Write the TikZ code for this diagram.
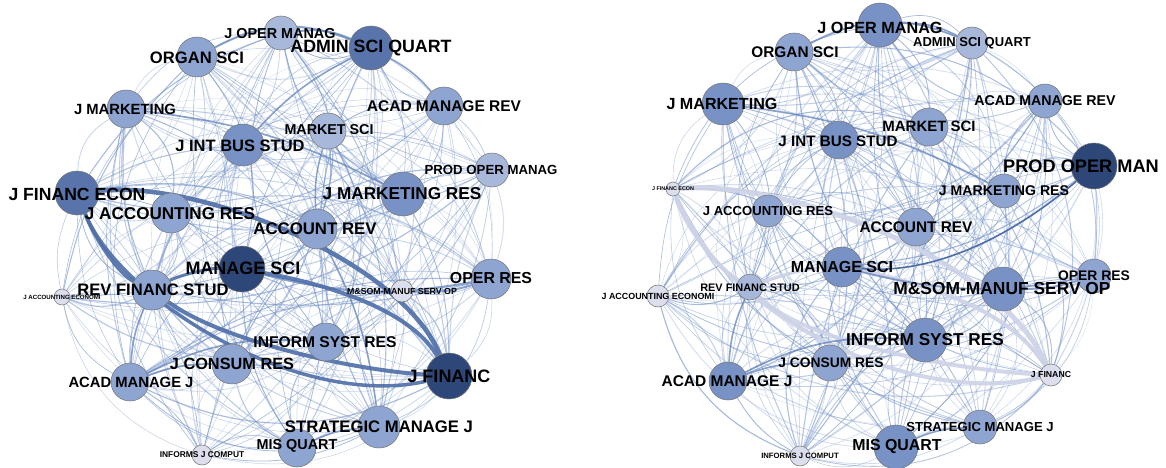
\documentclass[tikz,border=0pt]{standalone}
\usepackage{fontspec}
\setmainfont{Liberation Sans}
\usetikzlibrary{backgrounds}
\pgfdeclarelayer{bg}
\pgfdeclarelayer{edges}
\pgfsetlayers{bg,edges,main}
\definecolor{c1}{HTML}{DCDEEE}
\definecolor{c2}{HTML}{A8B8DA}
\definecolor{c3}{HTML}{8EA5D1}
\definecolor{c4}{HTML}{7892C6}
\definecolor{c5}{HTML}{5874AA}
\definecolor{c6}{HTML}{2D4779}
\definecolor{webc}{HTML}{7895CA}
\definecolor{thickc}{HTML}{4E6EA8}
\definecolor{medc}{HTML}{6282BA}
\definecolor{palec}{HTML}{CDD2E7}
\tikzset{
  jnode/.style={circle, draw=black!55, line width=0.5pt, inner sep=0pt},
  jlab/.style={inner sep=0pt, text=black},
  thickedge/.style={draw=thickc, line width=#1, opacity=0.9},
  mededge/.style={draw=medc, line width=#1, opacity=0.75},
  paleedge/.style={draw=palec, line width=#1, opacity=0.9},
}
\begin{document}
\begin{tikzpicture}[x=1pt,y=-1pt]
\pgfmathsetseed{7}
\useasboundingbox (0,0) rectangle (1166,468);
\begin{pgfonlayer}{bg}
\fill[white] (0,0) rectangle (1166,468);
\end{pgfonlayer}
\def\ids{jom,os,asq,jm,amr,mks,jibs,pom,jfe,jmr,jar,ar,msci,rfs,jae,msom,or,isr,jcr,jf,amj,smj,misq,ijc}
% ---------- left graph nodes
\foreach \id/\x/\y/\r/\c in {jom/281/33/17/c2, os/197/57/20/c3, asq/371/48/22/c5, jm/126/109/19/c3, amr/444/106/19/c3, mks/328/131/18/c2, jibs/243/145/21/c4, pom/492/170/17/c2, jfe/77/193/22/c5, jmr/403/194/22/c4, jar/171/213/20/c3, ar/317/229/20/c3, msci/242/269/23/c6, rfs/152/290/20/c3, jae/62/297/8/c1, msom/402/291/11/c1, or/491/279/20/c3, isr/326/342/19/c3, jcr/232/364/20/c3, jf/449/376/23/c6, amj/130/382/19/c3, smj/379/427/21/c3, misq/297/448/19/c3, ijc/202/455/10/c1}
  {\node[jnode, fill=\c, minimum size={2*\r pt}] (L\id) at (\x,\y) {};}
% ---------- right graph nodes
\foreach \id/\x/\y/\r/\c in {jom/880/25/22/c4, os/794/52/19/c3, asq/972/43/16/c2, jm/723/104/21/c4, amr/1045/101/17/c3, mks/929/127/19/c3, jibs/839/140/19/c4, pom/1094/166/23/c6, jfe/673/189/7/c1, jmr/1004/191/17/c3, jar/768/211/16/c3, ar/916/227/19/c3, msci/842/267/20/c4, rfs/750/287/13/c2, jae/658/296/11/c1, msom/1003/289/22/c4, or/1094/276/17/c3, isr/925/340/22/c4, jcr/830/363/18/c3, jf/1051/375/11/c1, amj/728/381/19/c4, smj/980/427/17/c3, misq/896/447/22/c4, ijc/800/456/10/c1}
  {\node[jnode, fill=\c, minimum size={2*\r pt}] (R\id) at (\x,\y) {};}
% ---------- thin web of edges
\begin{pgfonlayer}{edges}
\foreach \g/\cx/\cy in {L/280/-245,R/880/-240}{
  \foreach \a [count=\i] in \ids {
    \foreach \b [count=\j] in \ids {
      \ifnum\j>\i
        \pgfpointanchor{\g\a}{center}\pgfgetlastxy\ax\ay
        \pgfpointanchor{\g\b}{center}\pgfgetlastxy\bx\by
        \pgfmathsetmacro\cr{((\bx-\ax)/100)*((\cy-\ay)/100)-((\by-\ay)/100)*((\cx-\ax)/100)}
        \pgfmathsetmacro\sg{(\cr>0?-1:1)*(rnd>0.3?1:-1)}
        \pgfmathsetmacro\bd{\sg*(10+22*rnd)}
        \pgfmathsetmacro\w{0.35+0.85*rnd}
        \pgfmathsetmacro\o{0.24+0.44*rnd}
        \draw[draw=webc, line width=\w pt, opacity=\o] (\g\a) to[bend left=\bd] (\g\b);
      \fi
    }
  }
}
% left: strong edges
\draw[mededge=2pt] (Los) to[bend left=25] (Lasq);
\draw[mededge=1.8pt] (Ljom) to[bend left=15] (Lasq);
\draw[mededge=1.6pt] (Ljm) to[bend left=10] (Ljmr);
\draw[mededge=1.6pt] (Lasq) to[bend right=10] (Ljibs);
\draw[mededge=1.6pt] (Lasq) to[bend left=10] (Lamr);
\draw[mededge=1.5pt] (Lar) to[bend left=10] (Lmks);
\draw[mededge=1.8pt] (Lamj) to[bend left=10] (Ljcr);
\draw[mededge=1.6pt] (Lamj) to[bend left=15] (Lisr);
\draw[mededge=1.6pt] (Lamj) to[bend left=10] (Lrfs);
\draw[mededge=1.6pt] (Lsmj) to[bend right=10] (Lmisq);
\draw[mededge=2.2pt] (Lmsci) to[bend right=12] (Lor);
\draw[mededge=2pt] (Lmsom) to[bend right=10] (Lor);
\draw[mededge=1.6pt] (Lar) to[bend left=10] (Lsmj);
\draw[thickedge=4.5pt] (Ljfe) .. controls (200,180) and (400,260) .. (Ljf);
\draw[thickedge=3.5pt] (Ljfe) .. controls (120,300) and (300,410) .. (Ljf);
\draw[thickedge=3.5pt] (Ljfe) .. controls (95,240) and (120,275) .. (Lrfs);
\draw[thickedge=4pt] (Lrfs) .. controls (220,340) and (350,370) .. (Ljf);
\draw[thickedge=4pt] (Lmsci) .. controls (330,285) and (410,310) .. (Ljf);
\draw[thickedge=3pt] (Lrfs) .. controls (180,275) and (210,268) .. (Lmsci);
% right: strong edges
\draw[paleedge=5pt] (Rjfe) .. controls (790,180) and (1000,260) .. (Rjf);
\draw[paleedge=4pt] (Rjfe) .. controls (710,300) and (900,410) .. (Rjf);
\draw[paleedge=4pt] (Rjfe) .. controls (695,240) and (720,270) .. (Rrfs);
\draw[paleedge=4pt] (Rrfs) .. controls (800,340) and (950,370) .. (Rjf);
\draw[paleedge=4pt] (Rmsci) .. controls (930,285) and (1010,310) .. (Rjf);
\draw[paleedge=3pt] (Rrfs) .. controls (780,275) and (810,268) .. (Rmsci);
\draw[mededge=1.8pt] (Ros) to[bend left=25] (Rasq);
\draw[mededge=1.6pt] (Rjom) to[bend left=15] (Rasq);
\draw[mededge=1.6pt] (Rjm) to[bend left=10] (Rjmr);
\draw[mededge=1.6pt] (Ramj) to[bend left=10] (Rjcr);
\draw[mededge=1.6pt] (Ramj) to[bend left=15] (Risr);
\draw[mededge=1.6pt] (Ramj) to[bend left=10] (Rrfs);
\draw[mededge=1.8pt] (Rmsci) to[bend right=12] (Ror);
\draw[mededge=2pt] (Rmsom) to[bend right=8] (Ror);
\draw[mededge=1.5pt] (Rsmj) to[bend right=10] (Rmisq);
\draw[draw=thickc, line width=1.6pt] (Rpom) .. controls (1020,230) and (940,275) .. (Rmsci);
\end{pgfonlayer}
% ---------- labels
\foreach \id/\x/\y/\fs/\t in {jom/280/34/14.4/J OPER MANAG, os/197/58/16.6/ORGAN SCI, asq/371/48/17.8/ADMIN SCI QUART, jm/125/109/14.8/J MARKETING, amr/444/106/15.5/ACAD MANAGE REV, mks/329/130/14.3/MARKET SCI, jibs/240/146/16.5/J INT BUS STUD, pom/491/170/13.2/PROD OPER MANAG, jfe/77/194/17.6/J FINANC ECON, jmr/402/194/17.2/J MARKETING RES, jar/170/214/17.1/J ACCOUNTING RES, ar/315/229/16.8/ACCOUNT REV, msci/243/268/18/MANAGE SCI, rfs/153/290/16.6/REV FINANC STUD, jae/62/297/6.1/J ACCOUNTING ECONOMI, msom/402/291/8.8/M\&SOM-MANUF SERV OP, or/491/278/15.9/OPER RES, isr/325/342/15.6/INFORM SYST RES, jcr/232/364/16.3/J CONSUM RES, jf/449/376/18/J FINANC, amj/131/382/14.8/ACAD MANAGE J, smj/379/427/16.7/STRATEGIC MANAGE J, misq/297/446/14.4/MIS QUART, ijc/202/455/8.4/INFORMS J COMPUT}
  {\node[jlab, font=\bfseries\fontsize{\fs}{\fs}\selectfont] (L\id t) at (\x,\y) {\t};}
\foreach \id/\x/\y/\fs/\t in {jom/880/28/16.2/J OPER MANAG, os/795/52/15.4/ORGAN SCI, asq/972/43/13.0/ADMIN SCI QUART, jm/722/104/16.1/J MARKETING, amr/1045/101/14.2/ACAD MANAGE REV, mks/929/126/15.0/MARKET SCI, jibs/838/141/15.2/J INT BUS STUD, pom/1081/166/18.2/PROD OPER MAN, jfe/673/189/5.4/J FINANC ECON, jmr/1004/191/14.1/J MARKETING RES, jar/768/211/13.1/J ACCOUNTING RES, ar/916/227/15.4/ACCOUNT REV, msci/842/267/16.0/MANAGE SCI, rfs/750/288/10.9/REV FINANC STUD, jae/658/296/8.9/J ACCOUNTING ECONOMI, msom/1002/289/17.4/M\&SOM-MANUF SERV OP, or/1094/276/13.9/OPER RES, isr/925/340/17.2/INFORM SYST RES, jcr/831/363/13.8/J CONSUM RES, jf/1051/375/8.7/J FINANC, amj/727/381/15.5/ACAD MANAGE J, smj/980/427/13.1/STRATEGIC MANAGE J, misq/897/447/15.9/MIS QUART, ijc/800/456/7.7/INFORMS J COMPUT}
  {\node[jlab, font=\bfseries\fontsize{\fs}{\fs}\selectfont] (R\id t) at (\x,\y) {\t};}
\end{tikzpicture}
\end{document}
